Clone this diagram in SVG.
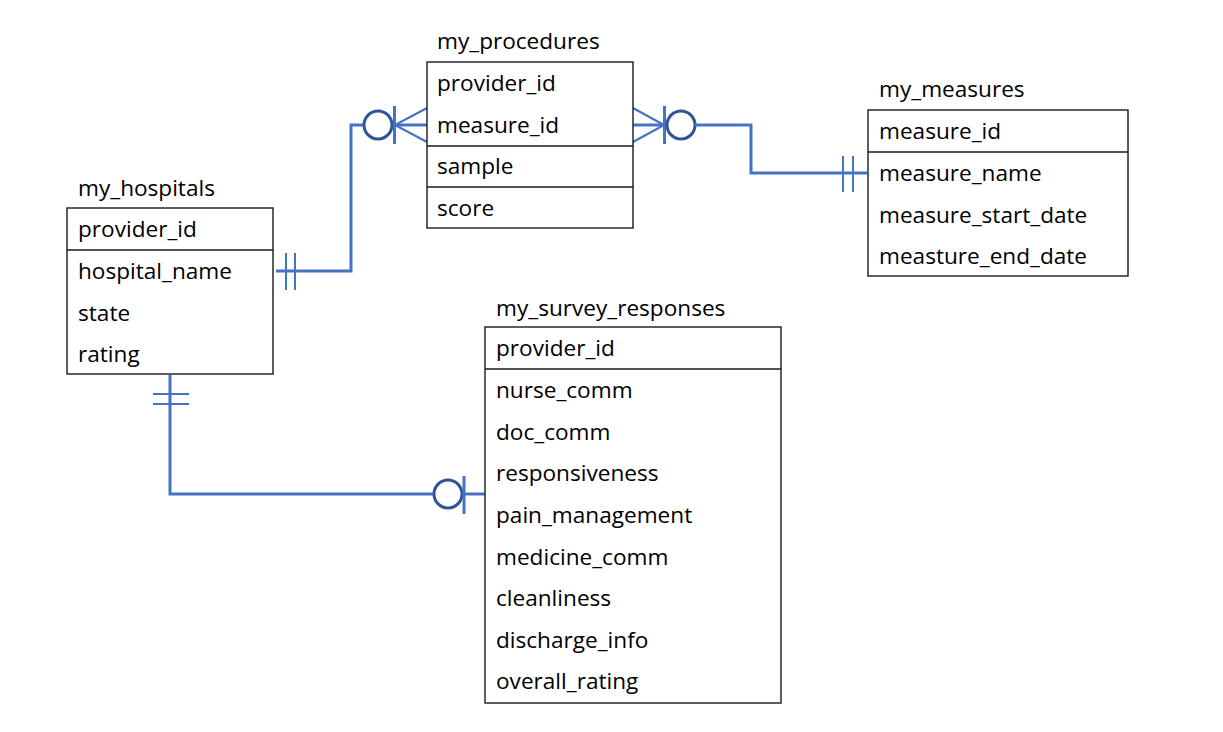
<svg xmlns="http://www.w3.org/2000/svg" width="1223" height="732" viewBox="0 0 1223 732">
<style>
.box{fill:#fff;stroke:#1a1a1a;stroke-width:1.4}
.div{stroke:#1a1a1a;stroke-width:1.4}
text{font-family:"Open Sans","Liberation Sans",sans-serif;font-size:22.6px;fill:#000}
.c{fill:none;stroke:#4472C4;stroke-width:3}
.t{fill:none;stroke:#4472C4;stroke-width:2}
.o{fill:#fff;stroke:#2F5597;stroke-width:3}
</style>
<rect width="1223" height="732" fill="#fff"/>
<g id="connectors">
  <polyline class="c" points="276,271 351,271 351,125 364,125"/>
  <line class="t" x1="286" y1="253" x2="286" y2="290"/>
  <line class="t" x1="295" y1="253" x2="295" y2="290"/>
  <circle class="o" cx="378" cy="125" r="14"/>
  <line class="c" x1="394.5" y1="106" x2="394.5" y2="144"/>
  <line class="c" x1="395" y1="125" x2="427" y2="125"/>
  <line class="t" x1="395" y1="125" x2="427" y2="108"/>
  <line class="t" x1="395" y1="125" x2="427" y2="142"/>

  <line class="c" x1="633" y1="125" x2="664" y2="125"/>
  <line class="t" x1="633" y1="108" x2="664" y2="125"/>
  <line class="t" x1="633" y1="142" x2="664" y2="125"/>
  <line class="c" x1="664.5" y1="106" x2="664.5" y2="144"/>
  <circle class="o" cx="681" cy="125" r="14"/>
  <polyline class="c" points="695,125 751,125 751,173 867,173"/>
  <line class="t" x1="843" y1="156" x2="843" y2="192"/>
  <line class="t" x1="853" y1="156" x2="853" y2="192"/>

  <polyline class="c" points="170,375 170,494 434,494"/>
  <line class="t" x1="153" y1="394" x2="189" y2="394"/>
  <line class="t" x1="153" y1="404" x2="189" y2="404"/>
  <circle class="o" cx="448" cy="494" r="14"/>
  <line class="c" x1="464" y1="476" x2="464" y2="514"/>
  <line class="c" x1="464" y1="494" x2="485" y2="494"/>
</g>
<g id="my_hospitals">
  <text x="78" y="196">my_hospitals</text>
  <rect class="box" x="67" y="208" width="206" height="166"/>
  <line class="div" x1="67" y1="250" x2="273" y2="250"/>
  <text x="78" y="237">provider_id</text>
  <text x="78" y="279">hospital_name</text>
  <text x="78" y="321">state</text>
  <text x="78" y="362">rating</text>
</g>
<g id="my_procedures">
  <text x="437" y="49">my_procedures</text>
  <rect class="box" x="427" y="62" width="206" height="166"/>
  <line class="div" x1="427" y1="146" x2="633" y2="146"/>
  <line class="div" x1="427" y1="187" x2="633" y2="187"/>
  <text x="437" y="91">provider_id</text>
  <text x="437" y="133">measure_id</text>
  <text x="437" y="174">sample</text>
  <text x="437" y="216">score</text>
</g>
<g id="my_measures">
  <text x="879" y="97">my_measures</text>
  <rect class="box" x="868" y="110" width="260" height="166"/>
  <line class="div" x1="868" y1="152" x2="1128" y2="152"/>
  <text x="879" y="139">measure_id</text>
  <text x="879" y="181">measure_name</text>
  <text x="879" y="223">measure_start_date</text>
  <text x="879" y="264">measture_end_date</text>
</g>
<g id="my_survey_responses">
  <text x="496" y="316">my_survey_responses</text>
  <rect class="box" x="485" y="327" width="296" height="376"/>
  <line class="div" x1="485" y1="369" x2="781" y2="369"/>
  <text x="496" y="356">provider_id</text>
  <text x="496" y="398">nurse_comm</text>
  <text x="496" y="440">doc_comm</text>
  <text x="496" y="481">responsiveness</text>
  <text x="496" y="523">pain_management</text>
  <text x="496" y="565">medicine_comm</text>
  <text x="496" y="606">cleanliness</text>
  <text x="496" y="648">discharge_info</text>
  <text x="496" y="689">overall_rating</text>
</g>
</svg>
